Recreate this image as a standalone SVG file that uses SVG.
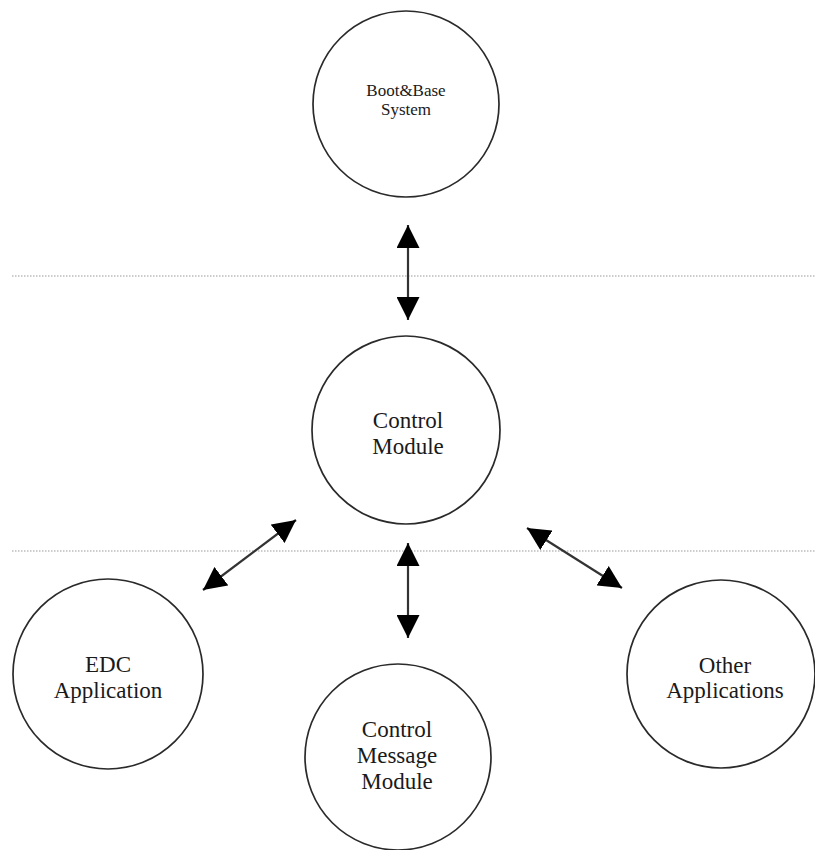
<svg xmlns="http://www.w3.org/2000/svg" width="815" height="850" viewBox="0 0 815 850">
  <style>
    .node circle { fill: #ffffff; stroke: #2a2a2a; stroke-width: 1.7; }
    .node text { font-family: "Liberation Serif", "Times New Roman", serif; fill: #1a1a1a; text-anchor: middle; }
    .sep { stroke: #9a9a9a; stroke-width: 1.2; stroke-dasharray: 1.5 1.5; }
    .conn { stroke: #333333; stroke-width: 2.2; fill: none; marker-start: url(#ah); marker-end: url(#ah); }
  </style>
  <defs>
    <marker id="ah" viewBox="0 0 23 23" refX="23" refY="11.5" markerWidth="23" markerHeight="23" markerUnits="userSpaceOnUse" orient="auto-start-reverse">
      <path d="M0,0 L23,11.5 L0,23 z" fill="#000000"/>
    </marker>
  </defs>
  <rect width="815" height="850" fill="#ffffff"/>

  <line class="sep" x1="12" y1="276" x2="815" y2="276"/>
  <line class="sep" x1="12" y1="551" x2="815" y2="551"/>

  <g id="boot-base" class="node">
    <circle cx="406" cy="104" r="93"/>
    <text x="406" y="96" font-size="17">Boot&amp;Base</text>
    <text x="406" y="115" font-size="17">System</text>
  </g>
  <g id="control-module" class="node">
    <circle cx="406" cy="430" r="94"/>
    <text x="408" y="428" font-size="23">Control</text>
    <text x="408" y="454" font-size="23">Module</text>
  </g>
  <g id="edc-application" class="node">
    <circle cx="108" cy="674" r="95"/>
    <text x="108" y="672" font-size="23">EDC</text>
    <text x="108" y="698" font-size="23">Application</text>
  </g>
  <g id="control-message-module" class="node">
    <circle cx="398" cy="757" r="93"/>
    <text x="397" y="737" font-size="23">Control</text>
    <text x="397" y="763" font-size="23">Message</text>
    <text x="397" y="789" font-size="23">Module</text>
  </g>
  <g id="other-applications" class="node">
    <circle cx="721" cy="674" r="94"/>
    <text x="725" y="673" font-size="23">Other</text>
    <text x="725" y="698" font-size="23">Applications</text>
  </g>

  <g id="connectors">
    <line class="conn" x1="408" y1="225" x2="408" y2="320"/>
    <line class="conn" x1="408" y1="543" x2="408" y2="638"/>
    <line class="conn" x1="296" y1="520" x2="203" y2="590"/>
    <line class="conn" x1="527" y1="528" x2="622" y2="588"/>
  </g>
</svg>
